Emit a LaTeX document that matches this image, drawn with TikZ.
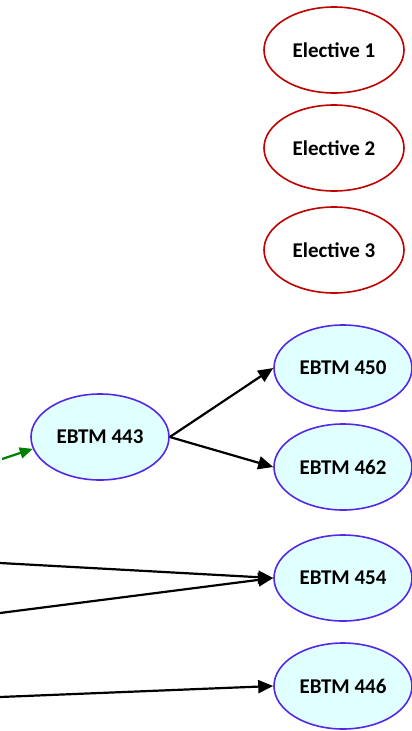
\documentclass[tikz,border=0pt]{standalone}
\usepackage{fontspec}
\setmainfont{Carlito}
\usepackage{tikz}
\usetikzlibrary{arrows.meta, shapes, positioning}

\definecolor{elecred}{RGB}{192,0,0}
\definecolor{courseblue}{RGB}{84,40,230}
\definecolor{coursefill}{RGB}{224,255,255}
\definecolor{prereqgreen}{RGB}{0,128,0}

\begin{document}
\begin{tikzpicture}[x=1pt, y=-1pt, on grid,
	elective/.style={ellipse, draw=elecred, line width=1.6pt, minimum width=140pt, minimum height=86pt, inner sep=0pt, font=\bfseries\fontsize{21}{25}\selectfont},
	course/.style={ellipse, draw=courseblue, fill=coursefill, line width=1.6pt, minimum width=138pt, minimum height=86pt, inner sep=0pt, font=\bfseries\fontsize{21}{25}\selectfont},
	prereq/.style={line width=2.2pt, -{Triangle[length=15pt, width=13pt]}}]
		\useasboundingbox (0,0) rectangle (412,731);
		
		\node[elective] (E1) at (334,50) {Elective 1};
		\node[elective, below = 98pt of E1] (E2) {Elective 2};
		\node[elective, below = 102pt of E2] (E3) {Elective 3};
		
		\node[course] (C443) at (100,437) {EBTM 443};
		\node[course] (C450) at (343,368) {EBTM 450};
		\node[course, below = 99pt of C450] (C462) {EBTM 462};
		\node[course, below = 111pt of C462] (C454) {EBTM 454};
		\node[course, below = 108pt of C454] (C446) {EBTM 446};
		
		\coordinate (G) at (2,459);
		\coordinate (L1) at (0,563);
		\coordinate (L2) at (0,613);
		\coordinate (L3) at (0,697);
		
		\draw[line width=2.2pt, prereqgreen, -{Triangle[length=13pt, width=11pt]}] (G) -- (C443.190);
		
		\path[prereq] (C443.east) edge (C450.west)
		(C443.east) edge (C462.west)
		(L1) edge (C454.west)
		(L2) edge (C454.west)
		(L3) edge (C446.west);
		
		\end{tikzpicture}
\end{document}
